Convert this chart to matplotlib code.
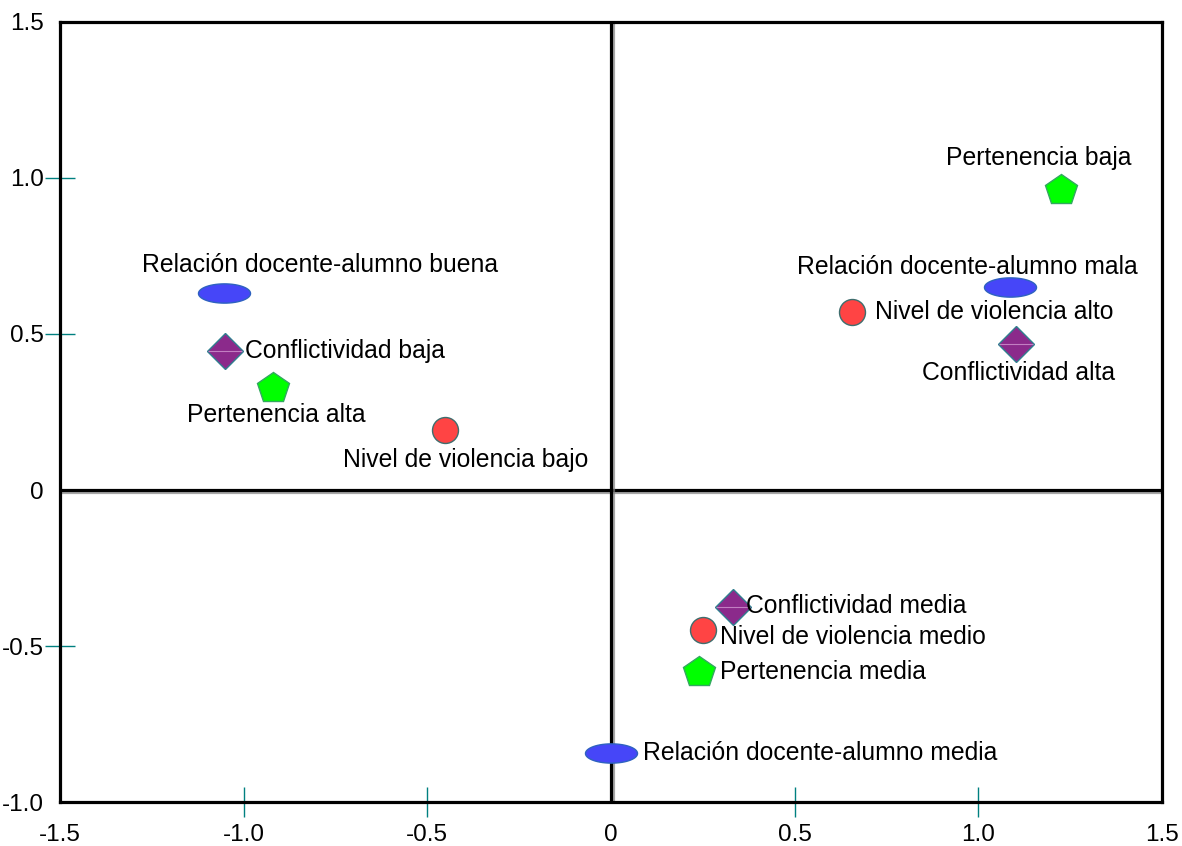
import numpy as np
import matplotlib
matplotlib.use("Agg")
import matplotlib.pyplot as plt
import matplotlib.patheffects as pe
from matplotlib.path import Path

plt.rcParams['font.family'] = ['Liberation Sans', 'DejaVu Sans']

# datos (coordenadas de las categorias en las dos dimensiones)
rel_labels = ["Relación docente-alumno buena", "Relación docente-alumno mala", "Relación docente-alumno media"]
rel_x = [-1.054, 1.086, 0.0]
rel_y = [0.631, 0.651, -0.843]

conf_labels = ["Conflictividad baja", "Conflictividad alta", "Conflictividad media"]
conf_x = [-1.051, 1.103, 0.332]
conf_y = [0.446, 0.468, -0.375]

pert_labels = ["Pertenencia alta", "Pertenencia baja", "Pertenencia media"]
pert_x = [-0.920, 1.225, 0.240]
pert_y = [0.327, 0.962, -0.583]

nv_labels = ["Nivel de violencia bajo", "Nivel de violencia alto", "Nivel de violencia medio"]
nv_x = [-0.452, 0.656, 0.250]
nv_y = [0.192, 0.571, -0.449]

x_ticks = [-1.5, -1.0, -0.5, 0, 0.5, 1.0, 1.5]
x_ticklabels = ["-1.5", "-1.0", "-0.5", "0", "0.5", "1.0", "1.5"]
y_ticks = [-1.0, -0.5, 0, 0.5, 1.0, 1.5]
y_ticklabels = ["-1.0", "-0.5", "0", "0.5", "1.0", "1.5"]

# desplazamiento de las etiquetas (pixeles)
rel_off = [(-82, 28), (-213, 20), (32, 0)]
conf_off = [(20, 0), (-94, -29), (13, 1)]
pert_off = [(-86, -27), (-115, 32), (21, 0)]
nv_off = [(-102, -30), (23, 0), (17, -7)]

t = np.linspace(0, 2 * np.pi, 60)
ellipse = Path(np.column_stack([np.cos(t), 0.37 * np.sin(t)]), closed=True)

fig = plt.figure(figsize=(11.82, 8.46), dpi=100)
ax = fig.add_axes([60 / 1182, 44 / 846, 1102 / 1182, 780 / 846])
ax.set_xlim(-1.5, 1.5)
ax.set_ylim(-1.0, 1.5)

shadow = [pe.SimpleLineShadow(offset=(1.5, -1.5), shadow_color='gray', alpha=0.7), pe.Normal()]
ax.axhline(0, color='black', lw=2.3, zorder=1, path_effects=shadow)
ax.axvline(0, color='black', lw=2.3, zorder=1, path_effects=shadow)

ax.plot(rel_x, rel_y, ls='none', marker=ellipse, ms=37.5, mfc='#4646F8', mec='#2E62C0', mew=1, zorder=3)
ax.plot(conf_x, conf_y, ls='none', marker='D', ms=18.3, mfc='#8B2A8B', mec='#2F7F8F', mew=1, zorder=3)
ax.plot(conf_x, conf_y, ls='none', marker='_', ms=25, mec='#C27FC2', mew=0.8, zorder=4)
ax.plot(pert_x, pert_y, ls='none', marker='p', ms=23.5, mfc='#00FF00', mec='#33A860', mew=1, zorder=3)
ax.plot(nv_x, nv_y, ls='none', marker='o', ms=18.7, mfc='#FF4444', mec='#3E6E6E', mew=1, zorder=3)

for labs, xs, ys, offs in [(rel_labels, rel_x, rel_y, rel_off), (conf_labels, conf_x, conf_y, conf_off),
                           (pert_labels, pert_x, pert_y, pert_off), (nv_labels, nv_x, nv_y, nv_off)]:
    for lab, x, y, (dx, dy) in zip(labs, xs, ys, offs):
        ax.annotate(lab, (x, y), xytext=(dx * 0.72, dy * 0.72), textcoords='offset points',
                    ha='left', va='center', fontsize=17.8, zorder=5)

for s in ax.spines.values():
    s.set_linewidth(2.3)
    s.set_color('black')

ax.set_xticks(x_ticks)
ax.set_xticklabels(x_ticklabels)
ax.set_yticks(y_ticks)
ax.set_yticklabels(y_ticklabels)
ax.tick_params(direction='inout', length=21, width=1, color='#008080', labelsize=17.5)
ax.tick_params(axis='x', pad=5)
ax.tick_params(axis='y', pad=1)

# las marcas en los bordes y en el cero quedan tapadas por las lineas
for tk, v in zip(ax.xaxis.get_major_ticks(), x_ticks):
    if v in (-1.5, 0, 1.5):
        tk.tick1line.set_visible(False)
for tk, v in zip(ax.yaxis.get_major_ticks(), y_ticks):
    if v in (-1.0, 0, 1.5):
        tk.tick1line.set_visible(False)

fig.savefig("out.png", dpi=100)
